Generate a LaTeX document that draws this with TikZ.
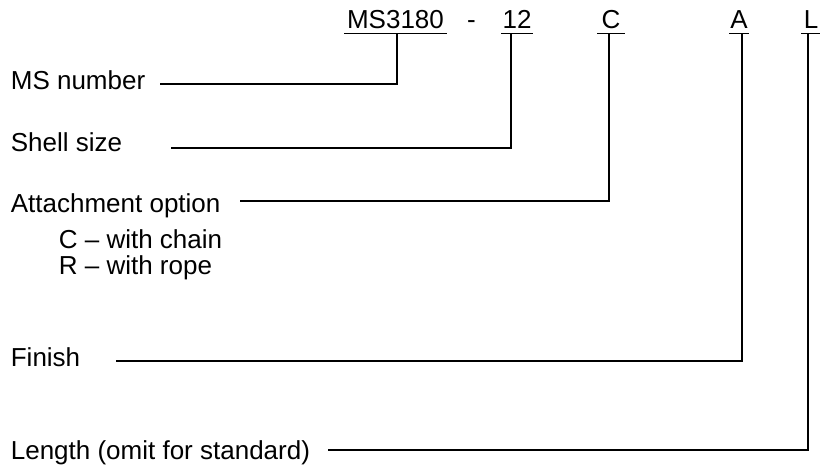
\documentclass[tikz,border=0pt]{standalone}
\usepackage{fontspec}
\setmainfont{Liberation Sans}

\begin{document}
\begin{tikzpicture}[x=1pt, y=-1pt, line width=1.7pt,
  font=\fontsize{26}{31}\selectfont,
  code/.style={inner xsep=0pt, inner ysep=4.2pt, text depth=0pt, anchor=base},
  lbl/.style={inner sep=0pt, anchor=base west}]
  \useasboundingbox (0,0) rectangle (820,466);
  % part number across the top
  \node[code, minimum width=101pt] (ms) at (395.5,28.3) {MS3180};
  \node[code] (dash) at (471.5,28.3) {-};
  \node[code, minimum width=30pt] (sz) at (517,28.3) {12};
  \node[code, minimum width=26pt] (att) at (611,28.3) {C\hspace{7pt}};
  \node[code, minimum width=18pt] (fin) at (739,28.3) {A};
  \node[code, minimum width=18pt] (len) at (811,28.3) {L\hspace{2pt}};
  \foreach \n in {ms,sz,att,fin,len}
    \draw (\n.south west) -- (\n.south east);
  % descriptions on the left
  \node[lbl] (lms) at (10,89.5) {MS number};
  \node[lbl] (lsz) at (10,151.7) {Shell size};
  \node[lbl] (latt) at (10,212.5) {Attachment option};
  \node[lbl] (lc) at (58,248.3) {C -- with chain};
  \node[lbl] (lr) at (58,274.3) {R -- with rope};
  \node[lbl] (lfin) at (10,366.7) {Finish};
  \node[lbl] (llen) at (10,459) {Length (omit for standard)};
  % where the leader lines start
  \coordinate (ems) at (160,84.3);
  \coordinate (esz) at (171,147.7);
  \coordinate (eatt) at (240,200.7);
  \coordinate (efin) at (116,360.7);
  \coordinate (elen) at (328,450);
  \draw (ems) -| ([xshift=1.2pt]ms.south);
  \draw (esz) -| ([xshift=-6pt]sz.south);
  \draw (eatt) -| ([xshift=-2pt]att.south);
  \draw (efin) -| ([xshift=3pt]fin.south);
  \draw (elen) -| ([xshift=-3pt]len.south);
\end{tikzpicture}
\end{document}
